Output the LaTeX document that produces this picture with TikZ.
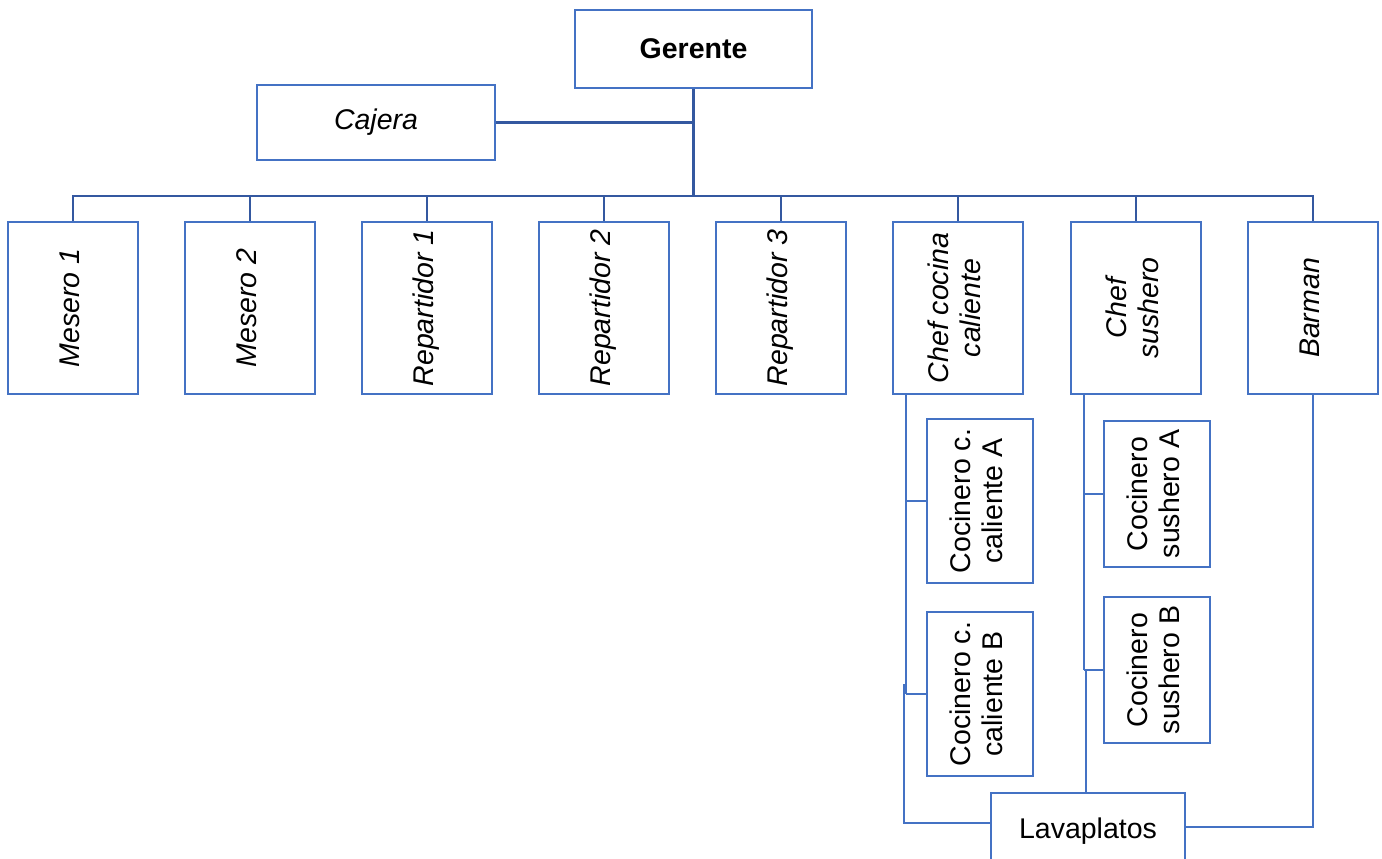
\documentclass[tikz,border=0pt]{standalone}
\usepackage{fontspec}
\setmainfont{Liberation Sans}
\definecolor{boxblue}{RGB}{68,114,196}
\definecolor{busblue}{RGB}{52,88,160}
\begin{document}
\begin{tikzpicture}[x=1pt,y=-1pt,
  box/.style={draw=boxblue, line width=2.2pt, fill=white, inner sep=0pt,
    font=\fontsize{28.5}{32}\selectfont, align=center},
  topline/.style={draw=busblue, line width=2.6pt},
  subline/.style={draw=boxblue, line width=2.4pt}]
\useasboundingbox (0,0) rectangle (1382,859);
\clip (0,0) rectangle (1382,859);

% manager and cashier
\node[box, minimum width=237, minimum height=78] (ger) at (693.5,49) {\textbf{Gerente}};
\node[box, minimum width=238, minimum height=75] (caj) at (376,122.5) {\itshape Cajera};

% first level staff
\newcommand\vlabel[1]{\rotatebox{90}{\begin{tabular}{@{}c@{}}#1\end{tabular}}}
\foreach \nm/\xx/\txt in {m1/73/Mesero 1, m2/250/Mesero 2, r1/427/Repartidor 1,
  r2/604/Repartidor 2, r3/781/Repartidor 3, cc/958/Chef cocina\\caliente,
  cs/1136/Chef\\sushero, bar/1313/Barman}
  \node[box, minimum width=130, minimum height=172, font=\fontsize{28.5}{32}\selectfont\itshape]
    (\nm) at (\xx,308) {\vlabel{\txt}};

% kitchen staff
\node[box, minimum width=106, minimum height=164] (cca) at (980,501) {\vlabel{Cocinero c.\\caliente A}};
\node[box, minimum width=106, minimum height=164] (ccb) at (980,694) {\vlabel{Cocinero c.\\caliente B}};
\node[box, minimum width=106, minimum height=146] (ssa) at (1157,494) {\vlabel{Cocinero\\sushero A}};
\node[box, minimum width=106, minimum height=146] (ssb) at (1157,670) {\vlabel{Cocinero\\sushero B}};
\node[box, minimum width=194, minimum height=76] (lav) at (1088,831) {Lavaplatos};

% main bus
\coordinate (bus) at (ger.south |- 0,196);
\draw[topline] (ger.south) -- (bus);
\draw[topline] (caj.east) -- (caj.east -| ger.south);
\foreach \nm in {m1,m2,r1,r2,r3,cc,cs,bar}
  \draw[topline] (\nm.north) |- (bus);

% hot kitchen branch
\coordinate (ccT) at ([xshift=14pt]cc.south west);
\draw[subline] (ccT) -- (ccT |- ccb.west);
\draw[subline] ([xshift=-2pt]ccT |- 0,684) |- ([yshift=8pt]lav.west);
\draw[subline] (cca.west) -- (cca.west -| ccT);
\draw[subline] (ccb.west) -- (ccb.west -| ccT);

% sushi branch
\coordinate (csT) at ([xshift=14pt]cs.south west);
\draw[subline] (csT) -- (csT |- ssb.west);
\draw[subline] ([xshift=2pt]csT |- ssb.west) -- ([xshift=2pt]csT |- lav.north);
\draw[subline] (ssa.west) -- (ssa.west -| csT);
\draw[subline] (ssb.west) -- (ssb.west -| csT);

% bar
\draw[subline] (bar.south) |- ([yshift=4pt]lav.east);
\end{tikzpicture}
\end{document}
